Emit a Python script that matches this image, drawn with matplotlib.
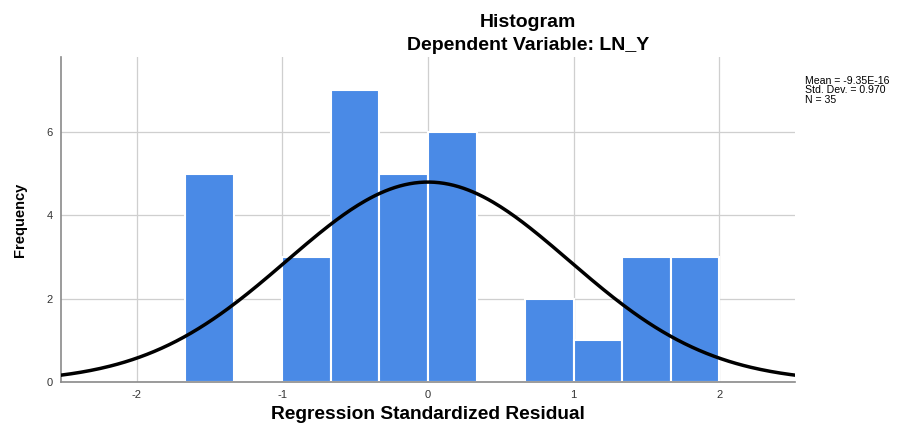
import numpy as np
import matplotlib
matplotlib.use('Agg')
import matplotlib.pyplot as plt

plt.rcParams['font.family'] = ['Liberation Sans', 'DejaVu Sans']
plt.rcParams['axes.unicode_minus'] = False

# histogram bins (width 1/3) and counts
bin_edges = [-5/3, -4/3, -1, -2/3, -1/3, 0, 1/3, 2/3, 1, 4/3, 5/3, 2]
counts = [5, 0, 3, 7, 5, 6, 0, 2, 1, 3, 3]

# summary stats shown in the legend box
mean = -9.35e-16
std_dev = 0.970
n_obs = 35

x_ticks = [-2, -1, 0, 1, 2]
y_ticks = [0, 2, 4, 6]

BAR_COLOR = '#4a8ae6'
GRID_COLOR = '#cfcfcf'

fig = plt.figure(figsize=(9.12, 4.25), dpi=100)
ax = fig.add_axes([0.0669, 0.1012, 0.8048, 0.7647])

widths = np.diff(bin_edges)
ax.bar(bin_edges[:-1], counts, width=widths, align='edge',
       color=BAR_COLOR, edgecolor='white', linewidth=1.5, zorder=2)

# normal curve scaled to the histogram
bw = widths[0]
xs = np.linspace(-2.52, 2.52, 300)
ys = n_obs * bw / (std_dev * np.sqrt(2 * np.pi)) * np.exp(-0.5 * ((xs - mean) / std_dev) ** 2)
ax.plot(xs, ys, color='black', linewidth=2.5, zorder=3)

ax.set_xlim(-2.52, 2.52)
ax.set_ylim(0, 7.8)
ax.set_xticks(x_ticks)
ax.set_yticks(y_ticks)
ax.tick_params(length=0, labelsize=8, colors='#333333', pad=6)
ax.grid(True, color=GRID_COLOR, linewidth=0.9, zorder=0)
ax.set_axisbelow(True)

for side in ['top', 'right']:
    ax.spines[side].set_visible(False)
for side in ['left', 'bottom']:
    ax.spines[side].set_color('#8a8a8a')
    ax.spines[side].set_linewidth(1.2)

ax.set_xlabel('Regression Standardized Residual', fontsize=13.8, fontweight='bold', labelpad=4)
ax.set_ylabel('Frequency', fontsize=10.5, fontweight='bold', labelpad=14)

fig.text(0.579, 0.947, 'Histogram', ha='center', va='center', fontsize=14, fontweight='bold')
fig.text(0.579, 0.893, 'Dependent Variable: LN_Y', ha='center', va='center',
         fontsize=14, fontweight='bold')

stats = 'Mean = %.2E\nStd. Dev. = %.3f\nN = %d' % (mean, std_dev, n_obs)
fig.text(0.883, 0.822, stats, ha='left', va='top', fontsize=7.6, linespacing=0.95)

fig.savefig('out.png', dpi=100)
